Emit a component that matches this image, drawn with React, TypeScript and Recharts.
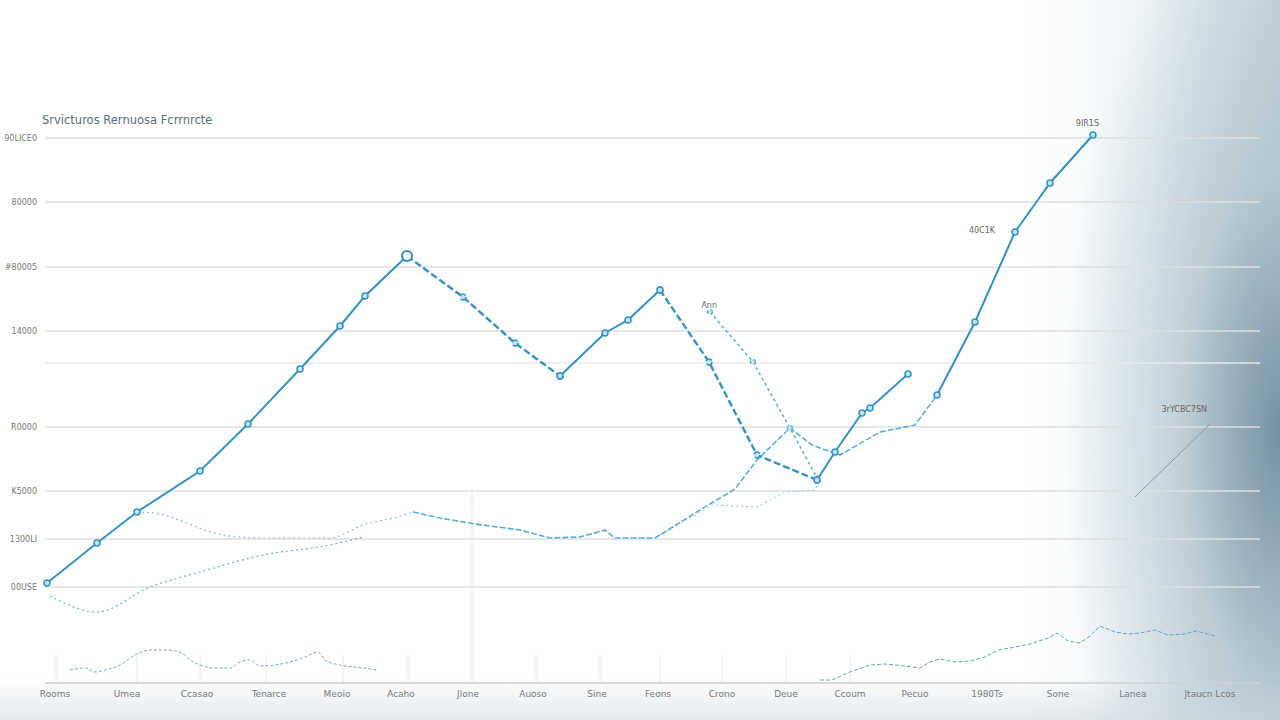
import { Line, LineChart, ReferenceDot, ReferenceLine, XAxis, YAxis } from "recharts"

// x positions are on a numeric axis, y values in dollars
const categories = [
  "Rooms", "Umea", "Ccasao", "Tenarce", "Meoio", "Acaho", "Jlone", "Auoso", "Sine",
  "Feons", "Crono", "Deue", "Ccoum", "Pecuo", "1980Ts", "Sone", "Lanea", "Jtaucn Lcos",
]
const categoryX = [55, 127, 197, 269, 337, 401, 468, 533, 597, 658, 722, 786, 850, 915, 987, 1058, 1133, 1210]

const yTicks = [1920, 2880, 3840, 5120, 6400, 7040, 8320, 9620, 10900]
const yTickLabels = ["00USE", "1300LI", "K5000", "R0000", "", "14000", "#80005", "80000", "90LICE0"]

const mainSolid = [
  { x: 47, y: 2000 }, { x: 97, y: 2800 }, { x: 137, y: 3420 }, { x: 200, y: 4240 },
  { x: 248, y: 5180 }, { x: 300, y: 6280 }, { x: 340, y: 7140 }, { x: 365, y: 7740 },
  { x: 407, y: 8540 }, { x: 480, y: null }, { x: 560, y: 6140 }, { x: 605, y: 7000 },
  { x: 628, y: 7260 }, { x: 660, y: 7860 }, { x: 740, y: null }, { x: 817, y: 4060 },
  { x: 835, y: 4620 }, { x: 862, y: 5400 }, { x: 870, y: 5500 }, { x: 908, y: 6180 },
]
const mainDashed = [
  { x: 407, y: 8540 }, { x: 463, y: 7720 }, { x: 515, y: 6800 }, { x: 560, y: 6140 },
  { x: 610, y: null }, { x: 660, y: 7860 }, { x: 709, y: 6420 }, { x: 757, y: 4560 },
  { x: 817, y: 4060 },
]

const branchDotted = [
  { x: 137, y: 3420 }, { x: 153, y: 3400 }, { x: 223, y: 2960 }, { x: 260, y: 2900 },
  { x: 330, y: 2900 }, { x: 363, y: 3160 }, { x: 397, y: 3320 }, { x: 413, y: 3420 },
]
const branchMid = [
  { x: 413, y: 3420 }, { x: 440, y: 3300 }, { x: 475, y: 3180 }, { x: 520, y: 3060 },
  { x: 550, y: 2900 }, { x: 580, y: 2920 }, { x: 605, y: 3060 }, { x: 615, y: 2900 },
  { x: 655, y: 2900 }, { x: 700, y: 3460 }, { x: 735, y: 3880 }, { x: 757, y: 4460 },
  { x: 790, y: 5100 }, { x: 812, y: 4760 }, { x: 840, y: 4560 }, { x: 880, y: 5020 },
  { x: 915, y: 5160 }, { x: 937, y: 5760 },
]
const branchSolid = [
  { x: 937, y: 5760 }, { x: 975, y: 7220 }, { x: 1015, y: 9020 }, { x: 1050, y: 10000 },
  { x: 1093, y: 10960 },
]

const lowerDotted = [
  { x: 50, y: 1740 }, { x: 97, y: 1420 }, { x: 150, y: 1920 }, { x: 200, y: 2220 },
  { x: 263, y: 2560 }, { x: 330, y: 2760 }, { x: 363, y: 2920 },
]
const midDotted = [
  { x: 655, y: 2900 }, { x: 713, y: 3560 }, { x: 757, y: 3520 }, { x: 785, y: 3820 },
  { x: 815, y: 3860 }, { x: 818, y: 4000 },
]
const annDashed = [
  { x: 710, y: 7420 }, { x: 753, y: 6420 }, { x: 790, y: 5100 }, { x: 817, y: 4100 },
]
const sideLine = [{ x: 1135, y: 3720 }, { x: 1210, y: 5180 }]

const lowLeft = [
  { x: 70, y: 260 }, { x: 85, y: 300 }, { x: 95, y: 220 }, { x: 105, y: 260 },
  { x: 120, y: 360 }, { x: 135, y: 560 }, { x: 150, y: 660 }, { x: 165, y: 660 },
  { x: 180, y: 620 }, { x: 190, y: 460 }, { x: 200, y: 360 }, { x: 215, y: 300 },
  { x: 230, y: 300 }, { x: 240, y: 420 }, { x: 250, y: 460 }, { x: 260, y: 340 },
  { x: 275, y: 360 }, { x: 290, y: 420 }, { x: 305, y: 520 }, { x: 318, y: 620 },
  { x: 325, y: 460 }, { x: 340, y: 360 }, { x: 355, y: 320 }, { x: 378, y: 260 },
]
const lowRight = [
  { x: 820, y: 60 }, { x: 832, y: 60 }, { x: 850, y: 220 }, { x: 870, y: 360 },
  { x: 885, y: 380 }, { x: 905, y: 340 }, { x: 920, y: 300 }, { x: 930, y: 420 },
  { x: 940, y: 480 }, { x: 955, y: 420 }, { x: 970, y: 440 }, { x: 985, y: 520 },
  { x: 998, y: 660 }, { x: 1010, y: 700 }, { x: 1030, y: 780 }, { x: 1048, y: 900 },
  { x: 1057, y: 1000 }, { x: 1068, y: 840 }, { x: 1080, y: 800 }, { x: 1090, y: 940 },
  { x: 1100, y: 1140 }, { x: 1115, y: 1020 }, { x: 1128, y: 980 }, { x: 1140, y: 1000 },
  { x: 1155, y: 1060 }, { x: 1168, y: 960 }, { x: 1185, y: 980 }, { x: 1196, y: 1040 },
  { x: 1215, y: 940 },
]

const shortGridX = [56, 137, 200, 266, 343, 408, 536, 600, 660, 722, 786, 850]

const annotations = [
  { x: 722, y: 7560, text: "Ann" },
  { x: 1104, y: 11200, text: "9IR1S" },
  { x: 1000, y: 9060, text: "40C1K" },
  { x: 1212, y: 5480, text: "3rYCBC7SN" },
]

const blue = "#3592bd"
const lightBlue = "#5aaed0"

const dotStyle = { r: 3, fill: "#bfe4f3", stroke: blue, strokeWidth: 1.5 }

export default function App() {
  return (
    <div
      style={{
        position: "absolute",
        left: 0,
        top: 0,
        width: 1280,
        height: 720,
        fontFamily: "'DejaVu Sans', sans-serif",
        background:
          "linear-gradient(to bottom, rgba(255,255,255,0) 94%, rgba(205,214,220,0.55) 100%)," +
          "radial-gradient(ellipse 17% 80% at 100% 60%, rgba(108,138,156,0.9) 0%, rgba(160,184,197,0.55) 45%, rgba(255,255,255,0) 100%)," +
          "linear-gradient(to right, #ffffff 80%, #eef3f5 90%, #cbd8df 100%)",
      }}
    >
      <div style={{ position: "absolute", left: 42, top: 113, fontSize: 11.5, color: "#5a6d7a" }}>
        Srvicturos Rernuosa Fcrrnrcte
      </div>
      <LineChart width={1280} height={720} margin={{ top: 100, right: 20, bottom: 7, left: 0 }}>
        <XAxis
          type="number"
          dataKey="x"
          domain={[45, 1260]}
          ticks={categoryX}
          tickFormatter={(v) => categories[categoryX.indexOf(v)] ?? ""}
          tick={{ fontSize: 9, fill: "#7a7a7a" }}
          tickLine={false}
          axisLine={{ stroke: "#d0d0d0", strokeWidth: 1.5 }}
          interval={0}
          allowDuplicatedCategory={false}
        />
        <YAxis
          type="number"
          width={45}
          domain={[0, 11660]}
          ticks={yTicks}
          tickFormatter={(v) => yTickLabels[yTicks.indexOf(v)] ?? ""}
          tick={{ fontSize: 8, fill: "#777" }}
          tickLine={false}
          axisLine={false}
          interval={0}
        />
        {yTicks.map((t) => (
          <ReferenceLine key={t} y={t} stroke={t === 6400 ? "#e8e8e8" : "#dedede"} strokeWidth={1.5} />
        ))}
        <ReferenceLine segment={[{ x: 472, y: 0 }, { x: 472, y: 3860 }]} stroke="#e3e3e3" />
        {shortGridX.map((gx) => (
          <ReferenceLine key={gx} segment={[{ x: gx, y: 0 }, { x: gx, y: 560 }]} stroke="#e6e6e6" />
        ))}

        <Line data={lowLeft} dataKey="y" type="monotone" stroke="#7fa9b8" strokeWidth={1} strokeDasharray="3 2" dot={false} isAnimationActive={false} />
        <Line data={lowRight} dataKey="y" type="linear" stroke="#5fa7bf" strokeWidth={1} strokeDasharray="4 2" dot={false} isAnimationActive={false} />
        <Line data={lowerDotted} dataKey="y" type="monotone" stroke="#6fb0cc" strokeWidth={1.2} strokeDasharray="2 3" dot={false} isAnimationActive={false} />
        <Line data={midDotted} dataKey="y" type="linear" stroke="#8cc0d6" strokeWidth={1} strokeDasharray="2 3" dot={false} isAnimationActive={false} />
        <Line data={branchDotted} dataKey="y" type="monotone" stroke="#8fc3d8" strokeWidth={1.2} strokeDasharray="2 3" dot={false} isAnimationActive={false} />
        <Line data={branchMid} dataKey="y" type="linear" stroke={lightBlue} strokeWidth={1.6} strokeDasharray="6 2" dot={false} isAnimationActive={false} />
        <Line data={annDashed} dataKey="y" type="linear" stroke={lightBlue} strokeWidth={1.5} strokeDasharray="3 3" dot={{ r: 2.5, fill: "#bfe4f3", stroke: lightBlue }} isAnimationActive={false} />
        <Line data={sideLine} dataKey="y" type="linear" stroke="#8a9aa3" strokeWidth={1} dot={false} isAnimationActive={false} />
        <Line data={mainDashed} dataKey="y" type="linear" stroke={blue} strokeWidth={2.4} strokeDasharray="7 3" dot={dotStyle} isAnimationActive={false} />
        <Line data={mainSolid} dataKey="y" type="linear" stroke={blue} strokeWidth={2} dot={dotStyle} isAnimationActive={false} />
        <Line data={branchSolid} dataKey="y" type="linear" stroke={blue} strokeWidth={2} dot={dotStyle} isAnimationActive={false} />

        <ReferenceDot x={407} y={8540} r={5} fill="#ffffff" stroke="#2f8fb5" strokeWidth={2} />
        {annotations.map((a) => (
          <ReferenceDot
            key={a.text}
            x={a.x}
            y={a.y}
            r={0}
            label={{ value: a.text, fontSize: 8, fill: "#666", position: "left" }}
          />
        ))}
      </LineChart>
    </div>
  )
}
